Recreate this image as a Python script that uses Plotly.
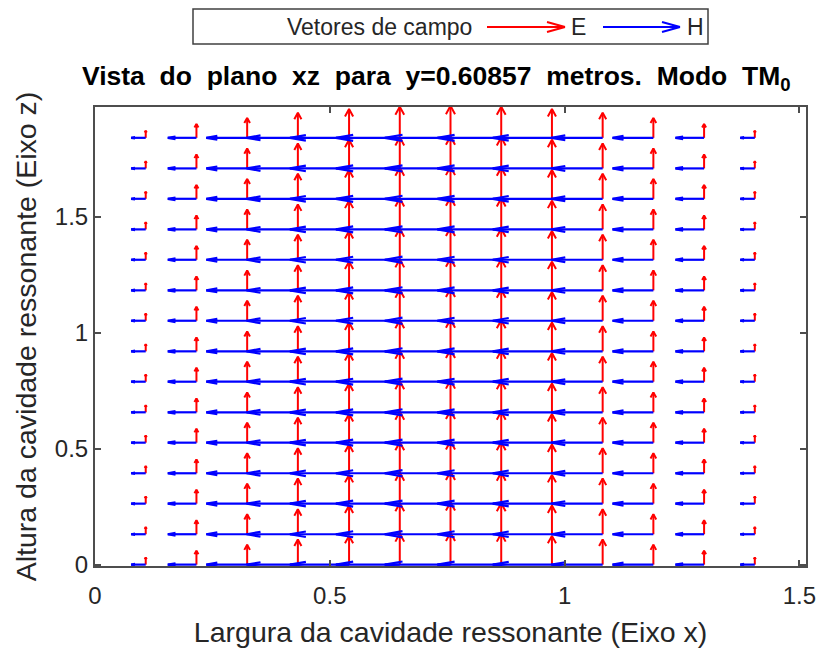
import plotly.graph_objects as go

# ---------------- data ----------------
x_pos = [0.108, 0.216, 0.324, 0.432, 0.541, 0.649, 0.757,
         0.865, 0.973, 1.081, 1.189, 1.297, 1.405]
z_pos = [0.0, 0.131, 0.263, 0.394, 0.526, 0.657, 0.789, 0.920,
         1.052, 1.183, 1.315, 1.446, 1.578, 1.709, 1.841]
# E field (vertical component, z-units) for each x column
E_z = [0.031, 0.060, 0.086, 0.108, 0.124, 0.134, 0.138,
       0.134, 0.124, 0.108, 0.086, 0.060, 0.031]
# H field (horizontal component, x-units) for each x column
H_x = [-0.031, -0.061, -0.087, -0.109, -0.126, -0.136, -0.140,
       -0.136, -0.126, -0.109, -0.087, -0.061, -0.031]

x_ticks = [0, 0.5, 1, 1.5]
x_tick_labels = ["0", "0.5", "1", "1.5"]
z_ticks = [0, 0.5, 1, 1.5]
z_tick_labels = ["0", "0.5", "1", "1.5"]

x_range = [0, 1.514]
z_range = [-0.006, 1.974]

title_text = ("Vista\u00a0 do\u00a0 plano\u00a0 xz\u00a0 para\u00a0 y=0.60857\u00a0 "
              "metros.\u00a0 Modo\u00a0 TM<sub>0</sub>")
x_title = "Largura da cavidade ressonante (Eixo x)"
z_title = "Altura da cavidade ressonante (Eixo z)"
legend_title = "Vetores de campo"
series_names = ["E", "H"]
series_colors = ["#ff0000", "#0000ff"]

# ---------------- quiver construction ----------------
def quiver_vertical(xs, zs, vs, hl=0.26, hw=0.07):
    X, Y = [], []
    for z in zs:
        for x, v in zip(xs, vs):
            ty = z + v
            X += [x, x, None, x - hw * v, x, x + hw * v, None]
            Y += [z, ty, None, ty - hl * v, ty, ty - hl * v, None]
    return X, Y


def quiver_horizontal(xs, zs, us, hl=0.27, hw=0.095):
    X, Y = [], []
    for z in zs:
        for x, u in zip(xs, us):
            tx = x + u
            a = abs(u)
            X += [x, tx, None, tx + hl * a, tx, tx + hl * a, None]
            Y += [z, z, None, z + hw * a, z, z - hw * a, None]
    return X, Y


ex, ey = quiver_vertical(x_pos, z_pos, E_z)
hx, hy = quiver_horizontal(x_pos, z_pos, H_x)

fig = go.Figure()
fig.add_trace(go.Scatter(x=ex, y=ey, mode="lines", name=series_names[0],
                         line=dict(color=series_colors[0], width=2),
                         showlegend=False, hoverinfo="skip"))
fig.add_trace(go.Scatter(x=hx, y=hy, mode="lines", name=series_names[1],
                         line=dict(color=series_colors[1], width=2.2),
                         showlegend=False, hoverinfo="skip"))

# page has an 8px body margin: figure coords = page coords - 8
OFF = 8
W, H = 821, 640
L, R, T, B = 87, 23, 99, 82
pw, ph = W - L - R, H - T - B


def px(xp):
    return (xp - OFF - L) / pw


def py(yp):
    return (H - B - (yp - OFF)) / ph


FONT = "Liberation Sans, Arial, Helvetica, sans-serif"
axcol = "#4d4d4d"
txtcol = "#262626"

# ---------------- manual legend box ----------------
shapes = [dict(type="rect", xref="paper", yref="paper",
               x0=px(193), x1=px(708), y0=py(9), y1=py(44),
               line=dict(color="#404040", width=1.5), fillcolor="white")]
annotations = [dict(text=legend_title, xref="paper", yref="paper",
                    x=px(474), y=py(27), xanchor="right", yanchor="middle",
                    showarrow=False, font=dict(family=FONT, size=23, color=txtcol))]
leg_arrows = [(487, 565, 569), (603, 680, 685)]
for (x0, x1, xt), name, col in zip(leg_arrows, series_names, series_colors):
    shapes.append(dict(type="line", xref="paper", yref="paper",
                       x0=px(x0), x1=px(x1), y0=py(27), y1=py(27),
                       line=dict(color=col, width=2)))
    for dy in (-5, 5):
        shapes.append(dict(type="line", xref="paper", yref="paper",
                           x0=px(x1 - 18), x1=px(x1), y0=py(27 + dy), y1=py(27),
                           line=dict(color=col, width=2)))
    annotations.append(dict(text=name, xref="paper", yref="paper",
                            x=px(xt), y=py(27), xanchor="left", yanchor="middle",
                            showarrow=False,
                            font=dict(family=FONT, size=23, color=txtcol)))

fig.update_layout(
    width=W, height=H,
    margin=dict(l=L, r=R, t=T, b=B, autoexpand=False),
    paper_bgcolor="white", plot_bgcolor="white",
    font=dict(family=FONT, color=txtcol),
    title=dict(text="<b>" + title_text + "</b>", xref="container", yref="container",
               x=(82 - OFF) / W, xanchor="left", y=1 - (76 - OFF) / H, yanchor="middle",
               font=dict(family=FONT, size=26.5, color="#000000")),
    shapes=shapes, annotations=annotations,
    xaxis=dict(range=x_range, tickvals=x_ticks, ticktext=x_tick_labels,
               showgrid=False, zeroline=False, showline=True, mirror="ticks",
               linecolor=axcol, linewidth=2, ticks="inside", ticklen=6,
               tickcolor=axcol, tickwidth=2, ticklabelstandoff=7,
               tickfont=dict(family=FONT, size=24, color=txtcol),
               title=dict(text=x_title, font=dict(family=FONT, size=28.5, color=txtcol),
                          standoff=14)),
    yaxis=dict(range=z_range, tickvals=z_ticks, ticktext=z_tick_labels,
               showgrid=False, zeroline=False, showline=True, mirror="ticks",
               linecolor=axcol, linewidth=2, ticks="inside", ticklen=6,
               tickcolor=axcol, tickwidth=2,
               tickfont=dict(family=FONT, size=24, color=txtcol),
               title=dict(text=z_title, font=dict(family=FONT, size=28.5, color=txtcol),
                          standoff=10)),
)

fig.write_html("out.html")
